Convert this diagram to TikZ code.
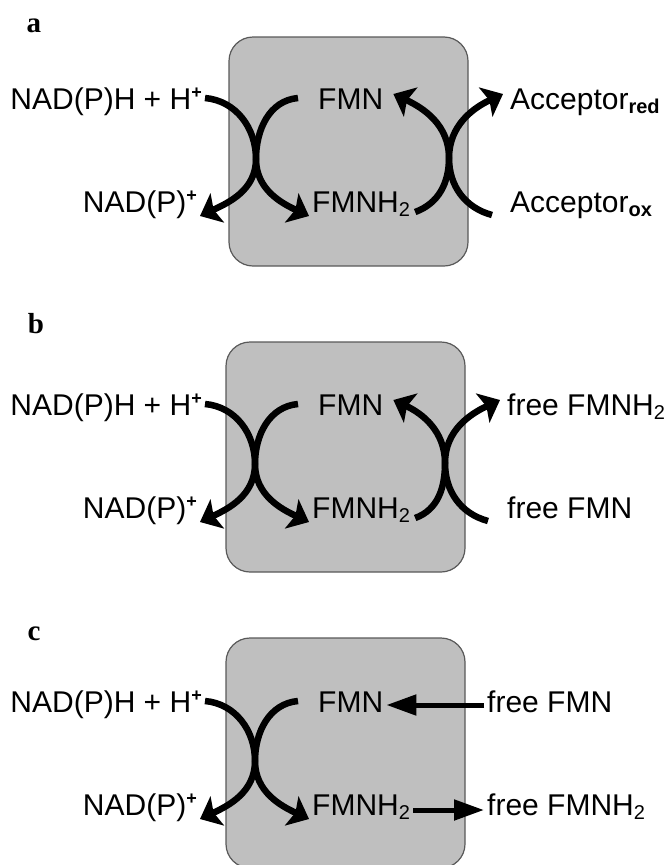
\documentclass[tikz,border=0pt]{standalone}
\usepackage{fontspec}
\setmainfont{Liberation Sans}
\newfontfamily\panelfont{Liberation Serif}
\usetikzlibrary{arrows.meta}
\newcommand\lowtext[1]{\raisebox{-4pt}{\fontsize{20}{20}\selectfont #1}}
\newcommand\hightext[1]{\raisebox{11pt}{\fontsize{18}{18}\selectfont\bfseries #1}}

\begin{document}
\begin{tikzpicture}[
    x=1pt, y=1pt,
    enzyme/.style={draw=black!65, fill=black!25, line width=1.2pt, rounded corners=24pt},
    mol/.style={font=\fontsize{30}{34}\selectfont, inner sep=3pt},
    tag/.style={font=\panelfont\bfseries\fontsize{29}{32}\selectfont, anchor=base, inner sep=0pt},
    curv/.style={line width=6.5pt, -{Stealth[length=19pt, width=32pt, inset=4pt]}},
    flow/.style={line width=5pt, -{Triangle[length=30pt, width=20pt]}}
]
\useasboundingbox (0,0) rectangle (668,-865);

% Panel a: external acceptor
\node[tag] (tagA) at (34,-32) {a};
\draw[enzyme] (229,-37) rectangle (468,-266);
\node[mol, anchor=base east] (nadhA) at (205,-109) {NAD(P)H + H\hightext{+}};
\node[mol, anchor=base east] (nadpA) at (200,-212) {NAD(P)\hightext{+}};
\node[mol, anchor=base west] (fmnA) at (315,-109) {FMN};
\node[mol, anchor=base west] (fmnhA) at (309,-212) {FMNH\lowtext{2}};
\node[mol, anchor=base west] (redA) at (507,-109) {Acceptor\lowtext{\bfseries red}};
\node[mol, anchor=base west] (oxA) at (507,-212) {Acceptor\lowtext{\bfseries ox}};
\coordinate (xlA) at (256,-159);
\coordinate (xrA) at (449,-158);

\draw[curv] ([yshift=11pt]nadhA.base east) to[out=-5,in=90] (xlA) to[out=-90,in=155] ([yshift=-4pt]fmnhA.base west);
\draw[curv] ([xshift=-17pt,yshift=11pt]fmnA.base west) to[out=185,in=90] (xlA) to[out=-90,in=25] ([yshift=-4pt]nadpA.base east);
\draw[curv] ([xshift=2pt]fmnhA.base east) to[out=20,in=-90] (xrA) to[out=90,in=-25] ([xshift=7pt,yshift=15pt]fmnA.base east);
\draw[curv] ([xshift=-15pt,yshift=-3pt]oxA.base west) to[out=165,in=-90] (xrA) to[out=90,in=205] ([xshift=-4pt,yshift=15pt]redA.base west);

% Panel b: free flavin reduced
\node[tag] (tagB) at (36,-333) {b};
\draw[enzyme] (226,-342) rectangle (465,-572);
\node[mol, anchor=base east] (nadhB) at (205,-415) {NAD(P)H + H\hightext{+}};
\node[mol, anchor=base east] (nadpB) at (200,-518) {NAD(P)\hightext{+}};
\node[mol, anchor=base west] (fmnB) at (315,-415) {FMN};
\node[mol, anchor=base west] (fmnhB) at (309,-518) {FMNH\lowtext{2}};
\node[mol, anchor=base west] (freehB) at (504,-415) {free FMNH\lowtext{2}};
\node[mol, anchor=base west] (freeB) at (504,-518) {free FMN};
\coordinate (xlB) at (255,-464);
\coordinate (xrB) at (445,-463);

\draw[curv] ([yshift=11pt]nadhB.base east) to[out=-5,in=90] (xlB) to[out=-90,in=155] ([yshift=-4pt]fmnhB.base west);
\draw[curv] ([xshift=-17pt,yshift=11pt]fmnB.base west) to[out=185,in=90] (xlB) to[out=-90,in=25] ([yshift=-4pt]nadpB.base east);
\draw[curv] ([xshift=2pt]fmnhB.base east) to[out=20,in=-90] (xrB) to[out=90,in=-25] ([xshift=7pt,yshift=15pt]fmnB.base east);
\draw[curv] ([xshift=-16pt,yshift=-3pt]freeB.base west) to[out=165,in=-90] (xrB) to[out=90,in=205] ([xshift=-4pt,yshift=15pt]freehB.base west);

% Panel c: flavin exchange
\node[tag] (tagC) at (34,-640) {c};
\draw[enzyme] (226,-638) rectangle (465,-868);
\node[mol, anchor=base east] (nadhC) at (205,-712) {NAD(P)H + H\hightext{+}};
\node[mol, anchor=base east] (nadpC) at (200,-815) {NAD(P)\hightext{+}};
\node[mol, anchor=base west] (fmnC) at (315,-712) {FMN};
\node[mol, anchor=base west] (fmnhC) at (309,-815) {FMNH\lowtext{2}};
\node[mol, anchor=base west] (freeC) at (484,-712) {free FMN};
\node[mol, anchor=base west] (freehC) at (484,-815) {free FMNH\lowtext{2}};
\coordinate (xlC) at (255,-761);

\draw[curv] ([yshift=11pt]nadhC.base east) to[out=-5,in=90] (xlC) to[out=-90,in=155] ([yshift=-4pt]fmnhC.base west);
\draw[curv] ([xshift=-17pt,yshift=11pt]fmnC.base west) to[out=185,in=90] (xlC) to[out=-90,in=25] ([yshift=-4pt]nadpC.base east);
\draw[flow] ([yshift=7pt]freeC.base west) -- ([yshift=7pt]fmnC.base east);
\draw[flow] ([yshift=5pt]fmnhC.base east) -- ([yshift=5pt]freehC.base west);
\end{tikzpicture}
\end{document}
